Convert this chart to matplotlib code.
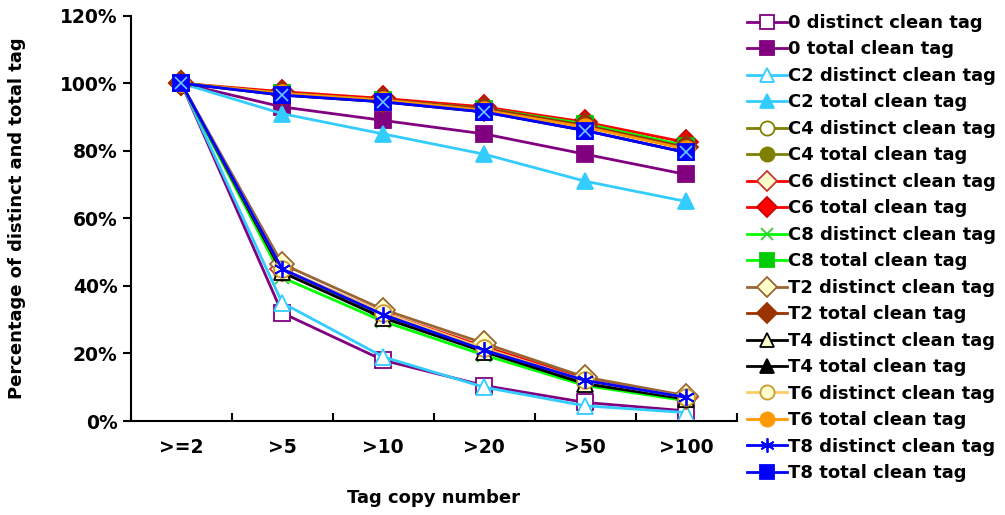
import matplotlib
matplotlib.use("Agg")
import matplotlib.pyplot as plt
from matplotlib.ticker import FuncFormatter, FixedLocator

categories = [">=2", ">5", ">10", ">20", ">50", ">100"]

d0 = [100, 32, 18, 10.5, 5.5, 3]
t0 = [100, 93, 89, 85, 79, 73]
dC2 = [100, 35, 19, 10, 4.5, 2.5]
tC2 = [100, 91, 85, 79, 71, 65]
dC4 = [100, 44, 31, 21, 11.5, 6.5]
tC4 = [100, 97, 95, 92.5, 88, 81]
dC6 = [100, 45, 32, 22, 12.5, 7]
tC6 = [100, 97.5, 95.5, 93, 88.5, 82.5]
dC8 = [100, 42.5, 29.5, 19.5, 10.5, 6]
tC8 = [100, 97, 95, 92.5, 88, 81.5]
dT2 = [100, 46.5, 33, 23, 13, 7.5]
tT2 = [100, 97, 95, 92.5, 87.5, 81]
dT4 = [100, 44, 30.5, 20.5, 11, 6.5]
tT4 = [100, 96.5, 94.5, 91.5, 86, 79.5]
dT6 = [100, 45, 32, 21.5, 12, 7]
tT6 = [100, 97, 95, 92, 87, 80.5]
dT8 = [100, 45, 31.5, 21, 12, 7]
tT8 = [100, 96.5, 94.5, 91.5, 86, 79.5]

LY = "#FFFFCC"
series = [
    ("0 distinct clean tag", d0, "#800080", "s", "white", "#800080"),
    ("0 total clean tag", t0, "#800080", "s", "#800080", "#800080"),
    ("C2 distinct clean tag", dC2, "#33CCFF", "^", "white", "#33CCFF"),
    ("C2 total clean tag", tC2, "#33CCFF", "^", "#33CCFF", "#33CCFF"),
    ("C4 distinct clean tag", dC4, "#808000", "o", "white", "#808000"),
    ("C4 total clean tag", tC4, "#808000", "o", "#808000", "#808000"),
    ("C6 distinct clean tag", dC6, "#FF0000", "D", LY, "#CC3333"),
    ("C6 total clean tag", tC6, "#FF0000", "D", "#FF0000", "#CC0000"),
    ("C8 distinct clean tag", dC8, "#00FF00", "x", "none", "#33CC33"),
    ("C8 total clean tag", tC8, "#00FF00", "s", "#00CC00", "#00CC00"),
    ("T2 distinct clean tag", dT2, "#996633", "D", LY, "#996633"),
    ("T2 total clean tag", tT2, "#993300", "D", "#993300", "#993300"),
    ("T4 distinct clean tag", dT4, "#000000", "^", LY, "#000000"),
    ("T4 total clean tag", tT4, "#000000", "^", "#000000", "#000000"),
    ("T6 distinct clean tag", dT6, "#FFCC66", "o", LY, "#CC9933"),
    ("T6 total clean tag", tT6, "#FF9900", "o", "#FF9900", "#FF9900"),
    ("T8 distinct clean tag", dT8, "#0000FF", "*", "none", "#0000FF"),
    ("T8 total clean tag", tT8, "#0000FF", "s", "#0000FF", "#0000FF"),
]

fig = plt.figure(figsize=(10.05, 5.15), dpi=100)
ax = fig.add_axes([0.130, 0.1825, 0.603, 0.787])

x = list(range(len(categories)))
for label, vals, col, mk, mfc, mec in series:
    if mk == "*":
        ax.plot(x, vals, color=col, lw=2.0, marker=(6, 2, 0), ms=12,
                mec=mec, mew=1.3, label=label)
    elif mk == "x":
        ax.plot(x, vals, color=col, lw=2.0, marker="x", ms=10,
                mec=mec, mew=1.3, label=label)
    else:
        ax.plot(x, vals, color=col, lw=2.0, marker=mk, ms=12,
                mfc=mfc, mec=mec, mew=1.3, label=label)
    if label.startswith("C8 total") or label.startswith("T8 total"):
        xc = "#0000CC" if label.startswith("C8") else "#66CCFF"
        ax.plot(x, vals, ls="none", marker="x", ms=8, mec=xc, mew=1.2)

ax.set_xlim(-0.5, 5.5)
ax.set_ylim(0, 120)
ax.set_xticks(x)
ax.set_xticklabels(categories, fontsize=13.5, fontweight="bold")
ax.xaxis.set_minor_locator(FixedLocator([i + 0.5 for i in range(-1, 6)]))
ax.tick_params(axis="x", which="major", length=0, pad=12)
ax.tick_params(axis="x", which="minor", length=6, width=1.5, direction="in")
ax.set_yticks(range(0, 121, 20))
ax.yaxis.set_major_formatter(FuncFormatter(lambda v, p: f"{int(v)}%"))
ax.tick_params(axis="y", length=6, width=1.5, direction="out", labelsize=13.5)
for lab in ax.get_yticklabels():
    lab.set_fontweight("bold")
for s in ["top", "right"]:
    ax.spines[s].set_visible(False)
for s in ["left", "bottom"]:
    ax.spines[s].set_linewidth(1.5)

ax.set_xlabel("Tag copy number", fontsize=13, fontweight="bold", labelpad=23)
ax.set_ylabel("Percentage of distinct and total tag", fontsize=13,
              fontweight="bold", labelpad=24)

leg = ax.legend(loc="upper left", bbox_to_anchor=(1.005, 1.022), frameon=False,
                prop={"size": 13, "weight": "bold"}, handlelength=2.2,
                handletextpad=0.1, labelspacing=0.47, borderaxespad=0,
                markerscale=0.85)

fig.savefig("out.png", dpi=100)
